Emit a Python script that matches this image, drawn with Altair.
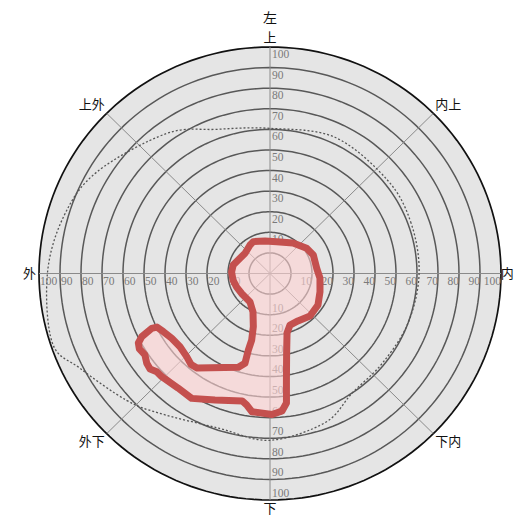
import altair as alt
import pandas as pd

# ---- data -------------------------------------------------------------
ring_values = [0, 10, 20, 30, 40, 50, 60, 70, 80, 90]
outer_value = 100
tick_values = [10, 20, 30, 40, 50, 60, 70, 80, 90, 100]
spoke_angles = [0, 45, 90, 135]

eye_label = ["左"]
direction_names = ["上", "内上", "内", "下内", "下", "外下", "外", "上外"]
direction_angles = [90, 44, 0, -44, -90, -136, 180, 136]

# normal visual field boundary (dashed)
normal_angle = [0, 20, 39, 65, 90, 110, 126, 149, 164, 180, 198, 207, 222,
                232, 252, 270, 290, 304, 321, 340]
normal_value = [61, 61.5, 62, 63, 60.5, 64.5, 74, 86, 92, 96, 99, 91.5, 82,
                76, 69, 71, 67, 60, 59, 60]

# measured field (red outline)
field_angle = [117.2, 98.6, 78.3, 53.5, 35.0, 23.6, 6.5, -5.3, -20.4, -33.8,
               -47.3, -60.0, -69.2, -74.3, -78.4, -81.4, -82.9, -85.1, -89.2, -97.3,
               -99.9, -102.1, -113.1, -121.6, -128.2, -135.8, -138.5, -140.9, -143.4, -146.4,
               -149.5, -151.7, -153.3, -154.7, -154.2, -150.9, -146.1, -140.3, -134.5, -130.4,
               -127.1, -108.3, -105.3, -105.5, -105.1, -107.1, -113.4, -124.5, -143.2, -157.5,
               -169.8, 177.7, 166.7, 152.7, 140.5, 124.5]
field_value = [7.4, 6.0, 5.8, 8.4, 11.3, 12.5, 12.4, 13.9, 15.4, 17.5,
               18.1, 16.6, 16.8, 20.0, 29.4, 42.3, 53.4, 57.0, 58.5, 57.7,
               54.8, 53.3, 56.8, 61.2, 60.8, 61.9, 62.0, 63.6, 63.1, 61.5,
               62.2, 61.2, 58.4, 52.3, 49.8, 48.1, 46.4, 45.7, 46.6, 48.0,
               47.6, 38.0, 35.2, 28.6, 23.5, 17.0, 10.4, 6.8, 6.6, 7.2,
               7.9, 8.3, 8.0, 6.1, 5.4, 6.8]

# ---- geometry helpers --------------------------------------------------
OFF = 10                      # value 0 sits on a small inner circle
LIM = outer_value + OFF

xs = alt.Scale(domain=[-LIM, LIM], nice=False, zero=False)
ys = alt.Scale(domain=[-LIM, LIM], nice=False, zero=False)
X = alt.X("x:Q", scale=xs, axis=None)
Y = alt.Y("y:Q", scale=ys, axis=None)


def polar(chart, r_expr, a_expr):
    return chart.transform_calculate(
        x=f"({r_expr})*cos(({a_expr})*PI/180)",
        y=f"({r_expr})*sin(({a_expr})*PI/180)",
    )


def circle_chart(values):
    c = alt.Chart(pd.DataFrame({"ring": values}))
    c = c.transform_calculate(t="sequence(0, 360, 2)").transform_flatten(["t"])
    return polar(c, f"datum.ring + {OFF}", "datum.t")


disc = circle_chart([outer_value]).mark_line(
    interpolate="linear-closed", fill="#e5e5e5", stroke="#111111", strokeWidth=1.7
).encode(x=X, y=Y, order="t:Q")

rings = circle_chart(ring_values).mark_line(
    interpolate="linear-closed", stroke="#585858", strokeWidth=1.5
).encode(x=X, y=Y, detail="ring:N", order="t:Q")

spokes = alt.Chart(pd.DataFrame({"a": spoke_angles})).transform_calculate(
    x=f"{LIM}*cos(datum.a*PI/180)",
    y=f"{LIM}*sin(datum.a*PI/180)",
    x2=f"-{LIM}*cos(datum.a*PI/180)",
    y2=f"-{LIM}*sin(datum.a*PI/180)",
).mark_rule(color="#8a8a8a", strokeWidth=1).encode(x=X, y=Y, x2="x2:Q", y2="y2:Q")

normal_df = pd.DataFrame({"a": normal_angle, "v": normal_value, "i": range(len(normal_angle))})
normal = polar(alt.Chart(normal_df), f"datum.v + {OFF}", "datum.a").mark_line(
    interpolate="cardinal-closed", stroke="#555555", strokeWidth=1.3, strokeDash=[2, 2]
).encode(x=X, y=Y, order="i:Q")

tick_df = pd.DataFrame({"v": tick_values})
tick_style = dict(font="Liberation Serif", fontSize=11.5, color="#7a7a7a")
ticks_right = polar(alt.Chart(tick_df), f"datum.v + {OFF}", "0").mark_text(
    align="right", baseline="top", dy=2, **tick_style
).encode(x=X, y=Y, text="v:Q")
ticks_left = polar(alt.Chart(tick_df), f"datum.v + {OFF}", "180").mark_text(
    align="left", baseline="top", dx=1, dy=2, **tick_style
).encode(x=X, y=Y, text="v:Q")
ticks_top = polar(alt.Chart(tick_df), f"datum.v + {OFF}", "90").mark_text(
    align="left", baseline="top", dx=2, dy=2, **tick_style
).encode(x=X, y=Y, text="v:Q")
ticks_bottom = polar(alt.Chart(tick_df), f"datum.v + {OFF}", "-90").mark_text(
    align="left", baseline="bottom", dx=2, dy=-1, **tick_style
).encode(x=X, y=Y, text="v:Q")

field_df = pd.DataFrame({"a": field_angle, "v": field_value, "i": range(len(field_angle))})
field = polar(alt.Chart(field_df), f"datum.v + {OFF}", "datum.a").mark_line(
    interpolate="linear-closed", fill="#ffd2d2", fillOpacity=0.6,
    stroke="#c4504e", strokeWidth=7, strokeJoin="round",
).encode(x=X, y=Y, order="i:Q")

# direction labels just outside the rim (a little further out on the diagonals),
# kept inside the page on the right-hand side
dir_df = pd.DataFrame({"name": direction_names, "a": direction_angles})
directions = polar(
    alt.Chart(dir_df), f"{LIM} + 4.5 + 3.5*abs(sin(2*datum.a*PI/180))", "datum.a"
).transform_calculate(
    x=f"min(datum.x, {LIM} + 3)"
).mark_text(
    font="Noto Sans CJK SC", fontSize=13, color="#111111", align="center", baseline="middle"
).encode(x=X, y=Y, text="name:N")

eye = polar(alt.Chart(pd.DataFrame({"name": eye_label})), f"{LIM} + 13.5", "90").mark_text(
    font="Noto Sans CJK SC", fontSize=14, color="#111111", align="center", baseline="middle"
).encode(x=X, y=Y, text="name:N")

chart = alt.layer(
    disc, rings, spokes, normal,
    ticks_right, ticks_left, ticks_top, ticks_bottom,
    field, directions, eye,
).properties(
    width=462,
    height=453,
    padding={"left": 31, "top": 39, "right": 13, "bottom": 18},
    autosize=alt.AutoSizeParams(type="none"),
    background="white",
).configure_view(stroke=None)

chart.save("out.html", embed_options={"renderer": "svg", "actions": False})
